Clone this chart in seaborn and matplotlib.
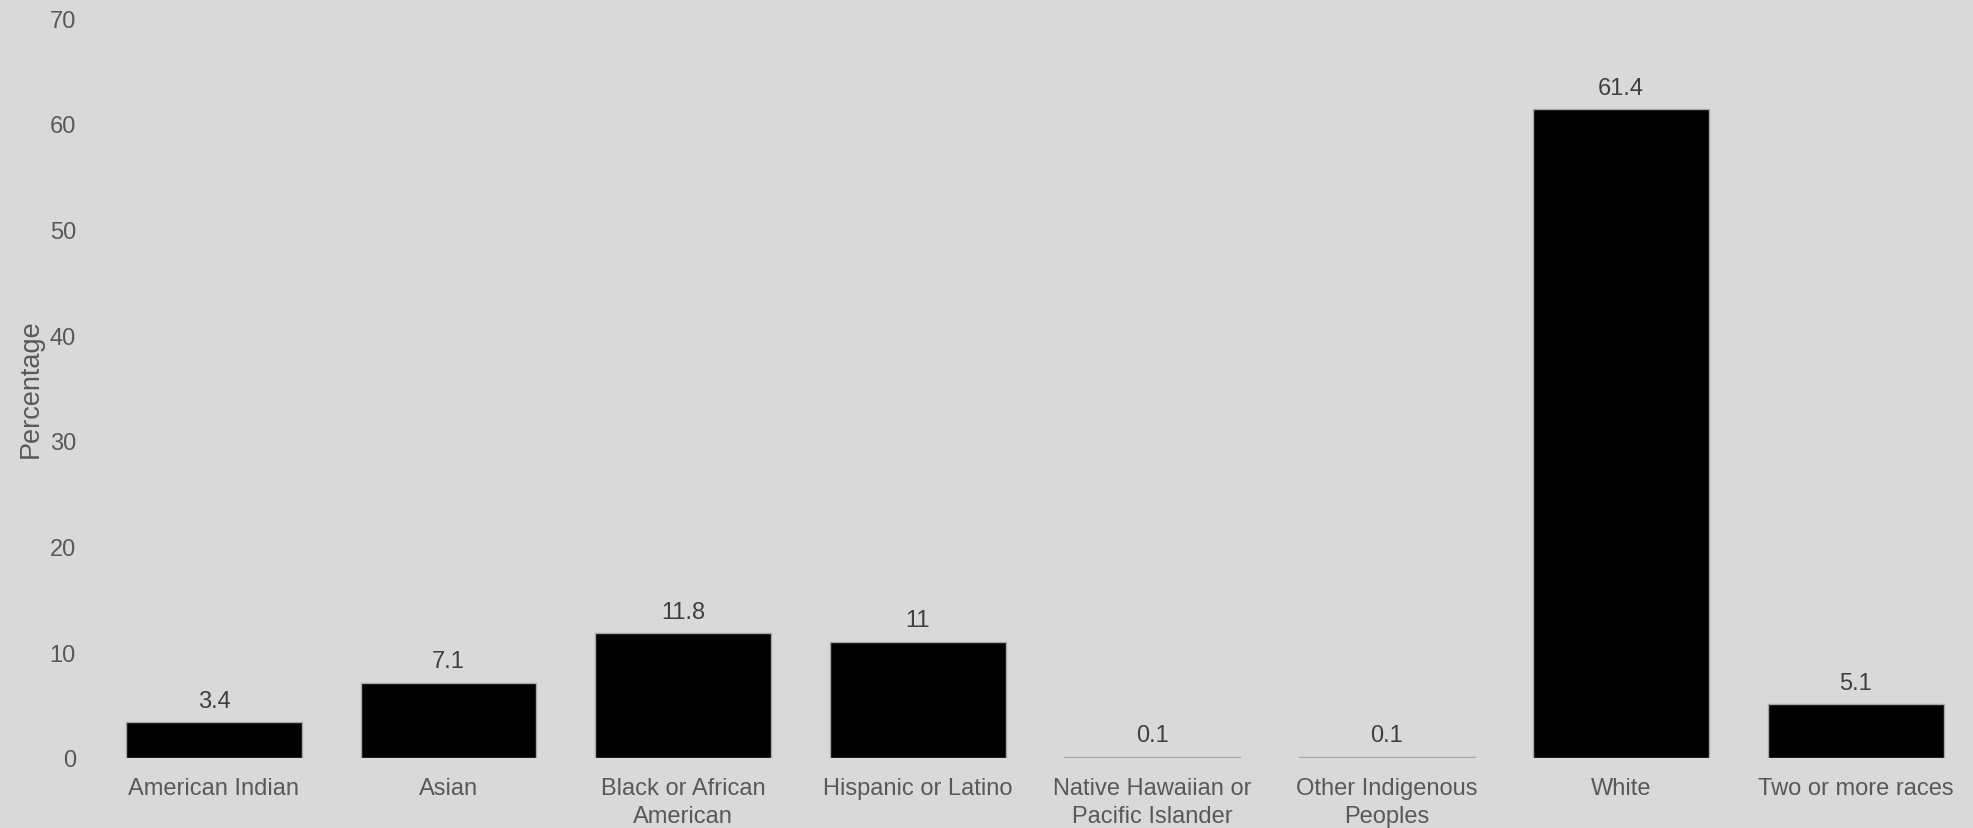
import matplotlib
matplotlib.use("Agg")
import matplotlib.pyplot as plt
import seaborn as sns
import pandas as pd

categories = ["American Indian", "Asian", "Black or African\nAmerican", "Hispanic or Latino",
              "Native Hawaiian or\nPacific Islander", "Other Indigenous\nPeoples", "White",
              "Two or more races"]
values = [3.4, 7.1, 11.8, 11, 0.1, 0.1, 61.4, 5.1]
value_labels = ["3.4", "7.1", "11.8", "11", "0.1", "0.1", "61.4", "5.1"]
yticks = [0, 10, 20, 30, 40, 50, 60, 70]

sns.set_theme(style="white")
plt.rcParams['font.family'] = ['Liberation Sans', 'DejaVu Sans']

BG = "#d9d9d9"
TICK = "#595959"
LAB = "#404040"

df = pd.DataFrame({"cat": categories, "val": values})

fig = plt.figure(figsize=(19.74, 8.29), dpi=100, facecolor=BG)
ax = fig.add_axes([0.049, 0.0845, 0.9505, 0.8925])
ax.set_facecolor(BG)

sns.barplot(data=df, x="cat", y="val", color="black", width=0.75, ax=ax,
            edgecolor="#a6a6a6", linewidth=1.0, saturation=1)

for p, lab in zip(ax.patches, value_labels):
    ax.annotate(lab, (p.get_x() + p.get_width() / 2, p.get_height()),
                xytext=(0, 7.5), textcoords="offset points", ha="center", va="bottom",
                fontsize=17, color=LAB)

ax.set_ylim(0, 70)
ax.set_xlim(-0.5, 7.5)
ax.set_yticks(yticks)
ax.set_yticklabels([str(t) for t in yticks])
ax.tick_params(axis="both", length=0, labelsize=17, labelcolor=TICK)
ax.tick_params(axis="y", pad=15)
ax.tick_params(axis="x", pad=14)
for t in ax.get_xticklabels():
    t.set_linespacing(1.32)
ax.set_xlabel("")
ax.set_ylabel("Percentage", fontsize=19.5, color=TICK, labelpad=4)
for s in ax.spines.values():
    s.set_visible(False)

fig.savefig("out.png", dpi=100, facecolor=BG)
